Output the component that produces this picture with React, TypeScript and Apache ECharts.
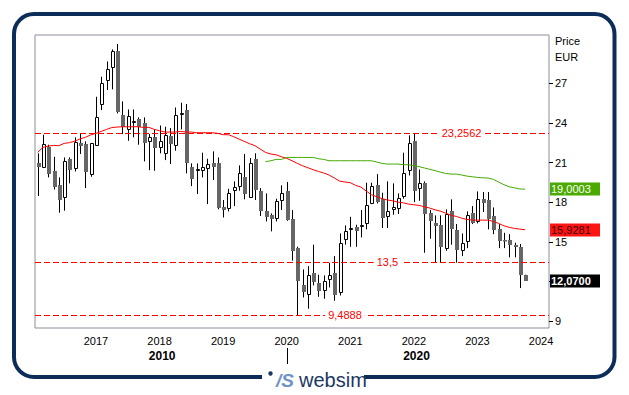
import React, { useEffect, useRef } from 'react';
import * as echarts from 'echarts';

// ---- data ----
const startYear = 2016;
const startMonth = 2;
const monthCount = 97; // Feb 2016 .. Feb 2024
const categories: string[] = [];
for (let k = 0; k < monthCount; k++) {
  const m = startMonth - 1 + k;
  const y = startYear + Math.floor(m / 12);
  const mm = (m % 12) + 1;
  categories.push(`${y}-${String(mm).padStart(2, '0')}`);
}

const opens = [20.95, 20.6, 22.21, 20.34, 19.28, 18.33, 21.25, 20.55, 22.51, 22.41, 20.09, 22.26, 25.39, 27.2, 28.16, 29.47, 24.63, 23.47, 23.97, 24.28,
  23.97, 22.56, 22.92, 22.11, 21.66, 23.02, 22.26, 24.68, 24.98, 20.7, 20.44, 20.39, 20.55, 20.95, 21.0, 17.62, 17.52, 18.83, 19.18, 19.89,
  18.33, 21.25, 18.88, 17.37, 17.02, 16.76, 18.07, 18.83, 16.71, 14.54, 11.72, 11.0, 12.68, 11.92, 11.32, 12.12, 12.68, 11.17, 15.15, 15.96,
  16.11, 16.21, 16.36, 17.87, 19.29, 18.23, 16.91, 17.42, 17.52, 18.43, 20.39, 22.66, 19.03, 19.49, 17.22, 16.41, 16.26, 14.49, 17.32, 15.91,
  14.29, 15.0, 17.17, 16.51, 18.23, 18.18, 16.97, 15.96, 15.15, 15.15, 14.8, 14.65, 12.53];
const closes = [20.65, 22.41, 20.14, 19.18, 18.18, 21.1, 20.44, 22.56, 22.26, 20.29, 22.46, 24.48, 27.0, 28.11, 29.47, 24.83, 23.67, 24.53, 24.18, 23.72,
  22.46, 22.97, 22.11, 22.66, 23.12, 22.41, 24.58, 24.73, 21.0, 19.79, 20.49, 20.65, 20.9, 20.65, 17.57, 17.42, 18.68, 19.13, 20.19, 18.63,
  21.0, 18.93, 17.37, 16.91, 16.71, 18.07, 18.73, 16.66, 14.29, 12.07, 11.22, 12.48, 11.97, 11.32, 12.02, 12.53, 11.0, 14.95, 15.86, 16.06,
  15.81, 16.31, 17.82, 19.23, 18.02, 16.81, 17.32, 17.67, 18.33, 20.19, 22.51, 18.88, 19.44, 17.12, 16.61, 16.21, 14.6, 17.12, 15.96, 14.39,
  14.9, 17.02, 16.46, 18.23, 17.97, 16.76, 15.91, 15.05, 15.05, 14.75, 14.65, 12.48, 12.07];
const lows = [18.48, 20.6, 19.89, 18.98, 17.22, 17.37, 19.44, 20.34, 21.66, 19.08, 19.94, 22.26, 24.98, 26.5, 26.55, 24.73, 23.17, 22.66, 22.92, 22.36,
  21.1, 20.44, 20.39, 21.71, 21.2, 20.9, 21.91, 23.52, 20.19, 19.23, 18.63, 19.89, 17.87, 19.69, 17.47, 16.86, 17.32, 17.72, 18.88, 18.23,
  18.33, 18.18, 16.97, 16.56, 15.81, 16.56, 17.42, 16.61, 13.59, 9.45, 10.81, 9.96, 11.72, 10.86, 10.71, 11.57, 10.56, 10.96, 14.8, 14.64,
  14.64, 15.35, 15.96, 17.87, 17.92, 16.06, 16.06, 17.07, 17.12, 18.28, 20.04, 18.02, 18.12, 14.19, 15.25, 13.44, 13.44, 14.34, 14.8, 13.44,
  13.94, 14.54, 16.36, 16.41, 17.27, 15.96, 15.6, 14.54, 14.54, 13.84, 13.84, 11.52, 12.07];
const highs = [21.71, 23.12, 22.36, 21.45, 19.89, 21.4, 21.4, 22.92, 23.22, 22.61, 22.5, 25.99, 27.5, 28.66, 29.57, 29.98, 25.64, 25.03, 25.03, 24.43,
  24.43, 23.17, 23.52, 23.82, 23.72, 23.62, 25.18, 25.54, 25.44, 20.95, 20.95, 21.76, 21.3, 21.86, 21.4, 18.18, 19.03, 19.59, 20.8, 21.66,
  21.35, 21.71, 19.08, 18.68, 17.17, 18.28, 19.29, 19.54, 17.42, 14.65, 12.93, 13.18, 14.8, 12.53, 12.48, 13.43, 13.94, 15.65, 16.26, 16.91,
  16.31, 17.42, 19.49, 19.49, 20.14, 18.73, 19.59, 19.44, 18.68, 21.76, 23.07, 23.22, 20.49, 19.59, 17.42, 17.02, 17.02, 17.47, 18.23, 16.36,
  15.65, 17.32, 17.72, 18.83, 18.78, 18.78, 17.62, 16.36, 15.7, 15.6, 14.95, 14.85, 12.53];

const redMA = [21.78, 22.16, 22.26, 22.31, 22.29, 22.46, 22.52, 22.63, 22.8, 22.92, 23.1, 23.22, 23.37, 23.52, 23.66, 23.7, 23.72, 23.72, 23.72, 23.72,
  23.67, 23.67, 23.52, 23.42, 23.32, 23.32, 23.32, 23.37, 23.32, 23.32, 23.27, 23.27, 23.27, 23.27, 23.22, 23.12, 23.12, 22.97, 22.79,
  22.61, 22.44, 22.29, 22.03, 21.78, 21.66, 21.6, 21.45, 21.33, 21.15, 20.95, 20.77, 20.62, 20.47, 20.34, 20.22, 20.07, 19.84, 19.61, 19.54,
  19.49, 19.29, 19.16, 18.86, 18.58, 18.43, 18.28, 18.18, 18.12, 18.02, 17.97, 17.87, 17.82, 17.77, 17.67, 17.57, 17.44, 17.34, 17.19,
  17.02, 16.94, 16.81, 16.71, 16.66, 16.66, 16.66, 16.66, 16.56, 16.41, 16.23, 16.11, 16.03, 15.98, 15.93];
const greenStart = 43;
const greenMAValues = [21.08, 21.15, 21.25, 21.25, 21.4, 21.4, 21.4, 21.4, 21.4, 21.4, 21.3, 21.25,
  21.15, 21.15, 21.15, 21.15, 21.15, 21.15, 21.15, 21.15, 21.15,
  21.05, 20.95, 20.9, 20.9, 20.9, 20.85, 20.85, 20.77, 20.7, 20.6, 20.5, 20.4, 20.29, 20.19,
  20.14, 20.14, 20.07, 19.99, 19.94, 19.89, 19.86, 19.84, 19.74, 19.54, 19.34, 19.18, 19.1, 19.02, 19.0];

const levelValues = [23.2562, 13.5, 9.4888];
const levelTexts = ['23,2562', '13,5', '9,4888'];
const yTicks = [9, 12, 15, 18, 21, 24, 27];
const yLabels = [9, 15, 18, 21, 24, 27]; // 12 is hidden behind the last-price box
const lastGreen = 19.0003;
const lastRed = 15.9281;
const lastClose = 12.07;
const decades = ['2010', '2020'];

const FONT = 'Liberation Sans, Arial, sans-serif';

export default function App() {
  const ref = useRef<HTMLDivElement>(null);
  useEffect(() => {
    if (!ref.current) return;
    const chart = echarts.init(ref.current, undefined, { renderer: 'svg' });
    const candleData = opens.map((o, i) => [i, o, closes[i], lows[i], highs[i]]);
    const greenMA: (number | null)[] = categories.map((_, i) =>
      i >= greenStart && i - greenStart < greenMAValues.length ? greenMAValues[i - greenStart] : null);

    const renderItem = (params: any, api: any) => {
      const i = api.value(0);
      const o = api.value(1), c = api.value(2), l = api.value(3), h = api.value(4);
      const pO = api.coord([i, o]);
      const pC = api.coord([i, c]);
      const pL = api.coord([i, l]);
      const pH = api.coord([i, h]);
      const cx = Math.round(pO[0]);
      const up = c >= o;
      let top = Math.round(Math.min(pO[1], pC[1]));
      let bot = Math.round(Math.max(pO[1], pC[1]));
      if (bot - top < 1) bot = top + 1;
      const children: any[] = [
        { type: 'line', shape: { x1: cx + 0.5, y1: pH[1], x2: cx + 0.5, y2: pL[1] }, style: { stroke: '#000', lineWidth: 1 } },
      ];
      if (up) {
        children.push({ type: 'rect', shape: { x: cx - 0.5, y: top + 0.5, width: 3, height: Math.max(bot - top - 1, 1) },
          style: { fill: '#fff', stroke: '#000', lineWidth: 1 } });
      } else {
        children.push({ type: 'rect', shape: { x: cx - 1, y: top, width: 4, height: Math.max(bot - top, 1.5) },
          style: { fill: '#666666' } });
      }
      return { type: 'group', children };
    };

    const option: any = {
      animation: false,
      backgroundColor: '#fff',
      textStyle: { fontFamily: FONT },
      grid: { left: 35, right: 80, top: 35, bottom: 67, show: true, borderColor: '#8c8c9c', borderWidth: 1, backgroundColor: '#fff' },
      xAxis: {
        type: 'category', data: categories, boundaryGap: true,
        axisLine: { show: false }, axisTick: { show: false }, splitLine: { show: false },
        axisLabel: {
          interval: (idx: number, v: string) => v.endsWith('-01'),
          formatter: (v: string) => v.slice(0, 4),
          fontSize: 11, color: '#000', margin: 7, fontFamily: FONT,
        },
      },
      yAxis: {
        type: 'value', position: 'right', min: 8.5, max: 30.66,
        splitLine: { show: false }, axisLine: { show: false },
        axisTick: { show: true, length: 4, customValues: yTicks, lineStyle: { color: '#000' } },
        axisLabel: { customValues: yLabels, fontSize: 11, color: '#000', margin: 6, fontFamily: FONT },
      },
      series: [
        { type: 'custom', renderItem, data: candleData, encode: { x: 0, y: [1, 2, 3, 4] }, z: 2, silent: true },
        {
          type: 'line', data: redMA, symbol: 'none', lineStyle: { color: '#ff0000', width: 1 }, z: 3, silent: true,
          markLine: {
            silent: true, symbol: ['none', 'none'], label: { show: false },
            lineStyle: { color: '#ff0000', type: [6, 3], width: 1 },
            data: levelValues.map((v) => ({ yAxis: v })),
          },
          markPoint: {
            silent: true, symbol: 'rect', symbolSize: 1, itemStyle: { color: 'rgba(0,0,0,0)' },
            label: { show: true, position: 'inside', color: '#ff0000', fontSize: 11, backgroundColor: '#fff', padding: [1, 3], fontFamily: FONT,
              formatter: (p: any) => p.name },
            data: levelValues.map((v, k) => ({ name: levelTexts[k], coord: [categories[[80, 66, 58][k]], v] })),
          },
        },
        { type: 'line', data: greenMA, symbol: 'none', lineStyle: { color: '#44aa00', width: 1 }, z: 3, silent: true, connectNulls: false },
      ],
    };
    chart.setOption(option);

    const yPix = (v: number) => chart.convertToPixel({ yAxisIndex: 0 }, v) as number;
    const xPix = (i: number) => chart.convertToPixel({ xAxisIndex: 0 }, categories[i]) as number;
    const x0 = xPix(0), x1 = xPix(1);
    const xAt = (f: number) => x0 + (x1 - x0) * f;
    const sepIdx = categories.indexOf('2020-01');
    const fmt = (v: number) => v.toFixed(4).replace('.', ',');

    const box = (v: number, bg: string, fg: string, bold: boolean) => {
      const y = yPix(v);
      return [
        { type: 'rect', shape: { x: 550, y: Math.round(y) - 6.5, width: 50, height: 13 }, style: { fill: bg }, z: 10 },
        { type: 'text', x: 551, y: Math.round(y), style: { text: fmt(v), fill: fg, fontSize: 11, fontWeight: bold ? 'bold' : 'normal', fontFamily: FONT, verticalAlign: 'middle', align: 'left' }, z: 11 },
      ];
    };

    chart.setOption({
      graphic: [
        { type: 'rect', shape: { x: 14, y: 14, width: 600.5, height: 363, r: 20 }, style: { fill: 'none', stroke: '#0c2c59', lineWidth: 4 }, z: 1 },
        { type: 'rect', shape: { x: 262, y: 368, width: 102, height: 18 }, style: { fill: '#fff' }, z: 2 },
        { type: 'circle', shape: { cx: 270.5, cy: 373.5, r: 2.2 }, style: { fill: '#1b3764' }, z: 3 },
        { type: 'text', x: 285, y: 380, style: { text: '/S', fill: '#7093c8', fontSize: 19, fontStyle: 'italic', fontWeight: 'bold', fontFamily: FONT, align: 'center', verticalAlign: 'middle' }, z: 3 },
        { type: 'text', x: 299, y: 380, style: { text: 'websim', fill: '#1b3764', fontSize: 20, fontFamily: FONT, align: 'left', verticalAlign: 'middle' }, z: 3 },
        { type: 'text', x: 555, y: 41, style: { text: 'Price', fill: '#000', fontSize: 11, fontFamily: FONT, verticalAlign: 'middle' }, z: 5 },
        { type: 'text', x: 555, y: 57, style: { text: 'EUR', fill: '#000', fontSize: 11, fontFamily: FONT, verticalAlign: 'middle' }, z: 5 },
        ...box(lastGreen, '#4aaa00', '#ffffff', false),
        ...box(lastRed, '#ff1414', '#3a0000', false),
        ...box(lastClose, '#000000', '#ffffff', true),
        { type: 'line', shape: { x1: Math.round(xAt(sepIdx)) + 0.5, y1: 348, x2: Math.round(xAt(sepIdx)) + 0.5, y2: 364 }, style: { stroke: '#000', lineWidth: 1 }, z: 5 },
        { type: 'text', x: xAt(sepIdx / 2), y: 356, style: { text: decades[0], fill: '#000', fontSize: 12, fontWeight: 'bold', fontFamily: FONT, align: 'center', verticalAlign: 'middle' }, z: 5 },
        { type: 'text', x: xAt((sepIdx + categories.length - 1) / 2), y: 356, style: { text: decades[1], fill: '#000', fontSize: 12, fontWeight: 'bold', fontFamily: FONT, align: 'center', verticalAlign: 'middle' }, z: 5 },
      ],
    });

    return () => chart.dispose();
  }, []);
  return <div ref={ref} style={{ position: 'absolute', left: 0, top: 0, width: 629, height: 395 }} />;
}
